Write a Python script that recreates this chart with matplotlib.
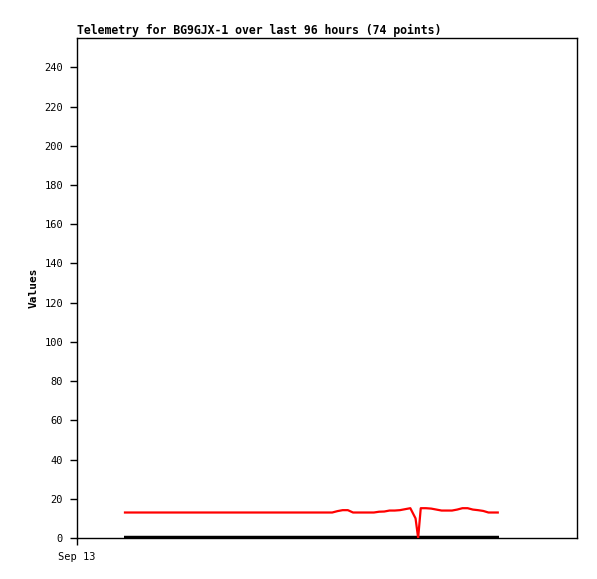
import matplotlib
matplotlib.use("Agg")
import matplotlib.pyplot as plt

# hours since Sep 13 00:00
hours = [9, 10, 11, 12, 13, 14, 15, 16, 17, 18, 19, 20, 21, 22, 23, 24,
         25, 26, 27, 28, 29, 30, 31, 32, 33, 34, 35, 36, 37, 38, 39, 40,
         41, 42, 43, 44, 45, 46, 47, 48, 49, 50, 51, 52, 53, 54, 55, 56,
         57, 58, 59, 60, 61, 62, 63, 64, 65, 65.5, 66, 67, 68, 69, 70, 71,
         72, 73, 74, 75, 76, 77, 78, 79, 80, 81]
red_vals = [13, 13, 13, 13, 13, 13, 13, 13, 13, 13, 13, 13, 13, 13, 13, 13,
            13, 13, 13, 13, 13, 13, 13, 13, 13, 13, 13, 13, 13, 13, 13, 13,
            13, 13, 13, 13, 13, 13, 13, 13, 13, 13.7, 14.2, 14.2, 13, 13, 13, 13,
            13, 13.4, 13.5, 14, 14, 14.2, 14.7, 15.2, 10, 0, 15.2, 15.2, 15, 14.5, 14, 14,
            14, 14.5, 15.2, 15.2, 14.5, 14.2, 13.8, 13, 13, 13]
black_vals = [0] * len(hours)

y_ticks = list(range(0, 241, 20))
x_tick_pos = [0]
x_tick_labels = ["Sep 13"]

mono = "DejaVu Sans Mono"

fig = plt.figure(figsize=(5.97, 5.79), dpi=100)
ax = fig.add_axes([77 / 597, 1 - 538 / 579, 500 / 597, 500 / 579])

ax.plot(hours, black_vals, color="black", linewidth=3.2, solid_capstyle="butt", zorder=3)
ax.plot(hours, red_vals, color="#ff0000", linewidth=1.6, solid_capstyle="butt", zorder=4)

ax.set_xlim(0, 96)
ax.set_ylim(0, 255)
ax.set_yticks(y_ticks)
ax.set_yticklabels([str(t) for t in y_ticks], fontfamily=mono, fontsize=7.5)
ax.set_xticks(x_tick_pos)
ax.set_xticklabels(x_tick_labels, fontfamily=mono, fontsize=7.5)
ax.tick_params(direction="out", length=5, width=1, pad=5, color="black")

for s in ax.spines.values():
    s.set_linewidth(1)
    s.set_color("black")

ax.set_ylabel("Values", fontfamily=mono, fontsize=8, fontweight="bold", labelpad=4)
ax.set_title("Telemetry for BG9GJX-1 over last 96 hours (74 points)",
             fontfamily=mono, fontsize=8.3, fontweight="bold", loc="left", pad=3)

fig.savefig("out.png", dpi=100)
